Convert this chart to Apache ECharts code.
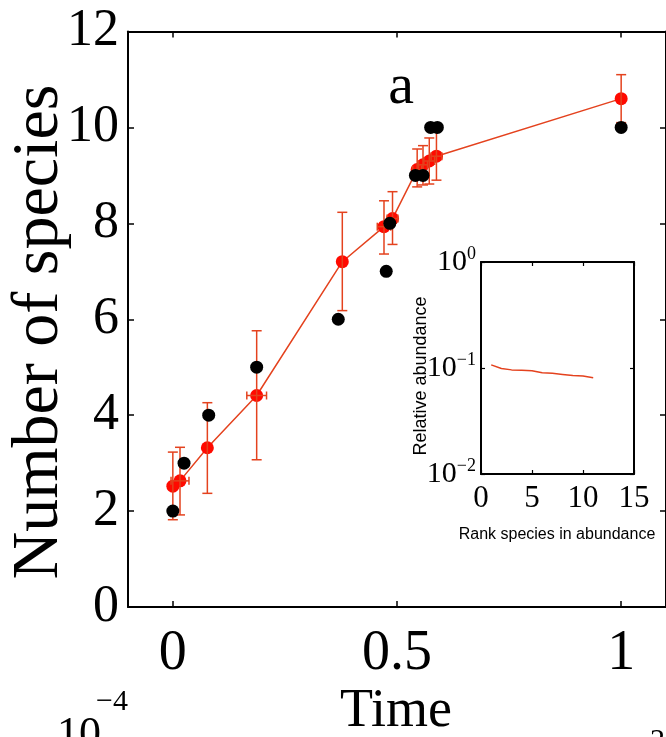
<!DOCTYPE html>
<html><head><meta charset="utf-8">
<script src="https://cdn.jsdelivr.net/npm/echarts@6/dist/echarts.min.js"></script>
<style>html,body{margin:0;padding:0;background:#fff}#c{width:666px;height:737px}</style>
</head><body><div id="c"></div>
<script>
// ---- data ----
const timeTicks = [0, 0.5, 1];
const redTime    = [0, 0.016, 0.077, 0.187, 0.378, 0.471, 0.490, 0.545, 0.558, 0.572, 0.588, 1.0];
const redSpecies = [2.52, 2.63, 3.32, 4.41, 7.20, 7.93, 8.10, 9.12, 9.22, 9.30, 9.40, 10.60];
const redLow     = [1.82, 1.92, 2.37, 3.07, 6.18, 7.36, 7.56, 8.76, 8.80, 8.82, 8.90, 10.10];
const redHigh    = [3.23, 3.33, 4.26, 5.76, 8.23, 8.47, 8.66, 9.55, 9.62, 9.78, 9.98, 11.10];
const redTimeErr = [0, 0.020, 0, 0.022, 0, 0.015, 0.012, 0.010, 0.010, 0.012, 0.012, 0];
const blackTime    = [0, 0.025, 0.080, 0.187, 0.369, 0.476, 0.484, 0.541, 0.558, 0.575, 0.590, 1.0];
const blackSpecies = [2, 3, 4, 5, 6, 7, 8, 9, 9, 10, 10, 10];
const insetRank = [1, 2, 3, 4, 5, 6, 7, 8, 9, 10, 11];
const insetAbundance = [0.107, 0.099, 0.096, 0.095, 0.094, 0.090, 0.089, 0.087, 0.085, 0.084, 0.081];

// ---- chart ----
const chart = echarts.init(document.getElementById('c'), null, {renderer: 'canvas'});
const SERIF = '"Liberation Serif", "Times New Roman", serif';
const SANS = '"Liberation Sans", Arial, sans-serif';
const RED = '#ff0a00', ORANGE = '#e4421e', BLACK = '#000';
const supLabel = v => { const e = Math.round(Math.log10(v)); return '{b|10}{s|' + (e < 0 ? '\u2212' + (-e) : e) + '}'; };
const axLine = {onZero: false, lineStyle: {color: BLACK, width: 2}};
const noSplit = {show: false};

const redData = redTime.map((t, i) => [t, redSpecies[i]]);
const errData = redTime.map((t, i) => [t, redSpecies[i], redLow[i], redHigh[i], redTimeErr[i]]);
const blackData = blackTime.map((t, i) => [t, blackSpecies[i]]);
const insetData = insetRank.map((r, i) => [r, insetAbundance[i]]);

const option = {
  animation: false,
  backgroundColor: '#fff',
  grid: [
    {left: 128, top: 31.5, width: 540, height: 575.5},
    {left: 481, top: 262, width: 153, height: 212}
  ],
  xAxis: [
    {gridIndex: 0, type: 'value', min: -0.1, max: 1.1, position: 'bottom', axisLine: axLine,
     axisTick: {inside: true, length: 6, customValues: timeTicks, lineStyle: {color: BLACK, width: 1.5}},
     axisLabel: {customValues: timeTicks, formatter: v => String(v), fontFamily: SERIF, fontSize: 56, color: BLACK, margin: 19},
     splitLine: noSplit},
    {gridIndex: 0, type: 'value', min: -0.1, max: 1.1, position: 'top', axisLine: axLine,
     axisTick: {inside: true, length: 6, customValues: timeTicks, lineStyle: {color: BLACK, width: 1.5}},
     axisLabel: {show: false}, splitLine: noSplit},
    {gridIndex: 1, type: 'value', min: 0, max: 15, interval: 5, position: 'bottom', axisLine: axLine,
     axisTick: {inside: true, length: 4, lineStyle: {color: BLACK, width: 1.2}},
     axisLabel: {fontFamily: SERIF, fontSize: 31, color: BLACK, margin: 9, showMinLabel: true, showMaxLabel: true},
     splitLine: noSplit},
    {gridIndex: 1, type: 'value', min: 0, max: 15, interval: 5, position: 'top', axisLine: axLine,
     axisTick: {inside: true, length: 4, lineStyle: {color: BLACK, width: 1.2}},
     axisLabel: {show: false}, splitLine: noSplit}
  ],
  yAxis: [
    {gridIndex: 0, type: 'value', min: 0, max: 12, interval: 2, position: 'left', axisLine: axLine,
     axisTick: {inside: true, length: 6, lineStyle: {color: BLACK, width: 1.5}},
     axisLabel: {fontFamily: SERIF, fontSize: 52, color: BLACK, margin: 9}, splitLine: noSplit},
    {gridIndex: 0, type: 'value', min: 0, max: 12, interval: 2, position: 'right', axisLine: axLine,
     axisTick: {inside: true, length: 6, lineStyle: {color: BLACK, width: 1.5}},
     axisLabel: {show: false}, splitLine: noSplit},
    {gridIndex: 1, type: 'log', logBase: 10, min: 0.01, max: 1, position: 'left', axisLine: axLine,
     axisTick: {inside: true, length: 4, lineStyle: {color: BLACK, width: 1.2}},
     minorTick: {show: false},
     axisLabel: {formatter: supLabel, margin: 5, showMinLabel: true, showMaxLabel: true,
       rich: {b: {fontFamily: SERIF, fontSize: 30, color: BLACK, lineHeight: 34},
              s: {fontFamily: SERIF, fontSize: 18, color: BLACK, verticalAlign: 'top', lineHeight: 18}}},
     splitLine: noSplit},
    {gridIndex: 1, type: 'log', logBase: 10, min: 0.01, max: 1, position: 'right', axisLine: axLine,
     axisTick: {inside: true, length: 4, lineStyle: {color: BLACK, width: 1.2}},
     axisLabel: {show: false}, splitLine: noSplit}
  ],
  series: [
    {type: 'line', xAxisIndex: 0, yAxisIndex: 0, data: redData, symbol: 'circle', symbolSize: 13,
     itemStyle: {color: RED, opacity: 1}, lineStyle: {color: ORANGE, width: 1.5}, z: 2},
    {type: 'custom', xAxisIndex: 0, yAxisIndex: 0, data: errData, z: 3,
     encode: {x: 0, y: 1},
     renderItem: (params, api) => {
       const x = api.value(0), y = api.value(1), lo = api.value(2), hi = api.value(3), xe = api.value(4);
       const pLo = api.coord([x, lo]), pHi = api.coord([x, hi]);
       const cap = 5;
       const st = {stroke: ORANGE, lineWidth: 1.5};
       const children = [
         {type: 'line', shape: {x1: pLo[0], y1: pLo[1], x2: pHi[0], y2: pHi[1]}, style: st},
         {type: 'line', shape: {x1: pLo[0] - cap, y1: pLo[1], x2: pLo[0] + cap, y2: pLo[1]}, style: st},
         {type: 'line', shape: {x1: pHi[0] - cap, y1: pHi[1], x2: pHi[0] + cap, y2: pHi[1]}, style: st}
       ];
       if (xe > 0) {
         const pL = api.coord([x - xe, y]), pR = api.coord([x + xe, y]);
         children.push({type: 'line', shape: {x1: pL[0], y1: pL[1], x2: pR[0], y2: pR[1]}, style: st});
         children.push({type: 'line', shape: {x1: pL[0], y1: pL[1] - 4, x2: pL[0], y2: pL[1] + 4}, style: st});
         children.push({type: 'line', shape: {x1: pR[0], y1: pR[1] - 4, x2: pR[0], y2: pR[1] + 4}, style: st});
       }
       return {type: 'group', children};
     }},
    {type: 'scatter', xAxisIndex: 0, yAxisIndex: 0, data: blackData, symbol: 'circle', symbolSize: 13,
     itemStyle: {color: BLACK, opacity: 1}, z: 4},
    {type: 'line', xAxisIndex: 2, yAxisIndex: 2, data: insetData, showSymbol: false, symbol: 'none',
     lineStyle: {color: ORANGE, width: 1.5}, z: 5}
  ],
  graphic: [
    {type: 'rect', left: 482, top: 263, shape: {width: 151, height: 210}, style: {fill: '#fff'}, z: -1, silent: true},
    {type: 'text', x: 40, y: 332, rotation: Math.PI / 2,
     style: {text: 'Number of species', fontFamily: SERIF, fontSize: 66, fill: BLACK, align: 'center', verticalAlign: 'middle'}},
    {type: 'text', x: 396, y: 712,
     style: {text: 'Time', fontFamily: SERIF, fontSize: 54, fill: BLACK, align: 'center', verticalAlign: 'middle'}},
    {type: 'text', x: 401, y: 88,
     style: {text: 'a', fontFamily: SERIF, fontSize: 58, fill: BLACK, align: 'center', verticalAlign: 'middle'}},
    {type: 'text', x: 421, y: 376, rotation: Math.PI / 2,
     style: {text: 'Relative abundance', fontFamily: SANS, fontSize: 18, fill: BLACK, align: 'center', verticalAlign: 'middle'}},
    {type: 'text', x: 557, y: 535,
     style: {text: 'Rank species in abundance', fontFamily: SANS, fontSize: 16, fill: BLACK, align: 'center', verticalAlign: 'middle'}},
    {type: 'text', x: 57, y: 713,
     style: {text: '10', fontFamily: SERIF, fontSize: 44, fill: BLACK}},
    {type: 'text', x: 96, y: 687,
     style: {text: '\u22124', fontFamily: SERIF, fontSize: 30, fill: BLACK}},
    {type: 'text', x: 650, y: 726,
     style: {text: '2', fontFamily: SERIF, fontSize: 30, fill: BLACK}}
  ]
};
chart.setOption(option);
</script></body></html>
